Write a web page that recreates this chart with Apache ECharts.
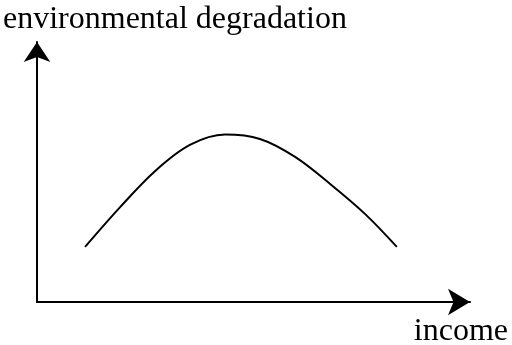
<!DOCTYPE html>
<html>
<head>
<meta charset="utf-8">
<script src="https://cdn.jsdelivr.net/npm/echarts@6/dist/echarts.min.js"></script>
<style>
  html, body { margin: 0; padding: 0; background: #fff; }
  #chart { width: 512px; height: 345px; }
</style>
</head>
<body>
<div id="chart"></div>
<script>
// income (arbitrary units) and degradation
const income = [1.11, 1.92, 2.73, 3.53, 4.34, 5.15, 5.96, 6.77, 7.58, 8.31];
const degradation = [2.12, 3.65, 5.04, 6.04, 6.44, 6.27, 5.58, 4.54, 3.38, 2.12];
const xName = 'income';
const yName = 'environmental degradation';

const curve = income.map((x, i) => [x, degradation[i]]);

let myChart = echarts.init(document.getElementById('chart'));
let option = {
  animation: false,
  backgroundColor: '#fff',
  title: [
    {
      text: yName,
      left: 3,
      top: 4,
      padding: 0,
      textStyle: { fontFamily: 'Liberation Serif', fontSize: 32, fontWeight: 'normal', color: '#000' }
    },
    {
      text: xName,
      right: 4,
      top: 316,
      padding: 0,
      textStyle: { fontFamily: 'Liberation Serif', fontSize: 32, fontWeight: 'normal', color: '#000' }
    }
  ],
  grid: {
    left: 37,
    right: 42,
    top: 42,
    bottom: 43,
    outerBoundsMode: 'none'
  },
  xAxis: {
    type: 'value',
    min: 0,
    max: 10,
    axisLine: {
      show: true,
      symbol: ['none', 'arrow'],
      symbolSize: [20, 22],
      lineStyle: { color: '#000', width: 2 }
    },
    axisTick: { show: false },
    axisLabel: { show: false },
    splitLine: { show: false }
  },
  yAxis: {
    type: 'value',
    min: 0,
    max: 10,
    axisLine: {
      show: true,
      symbol: ['none', 'arrow'],
      symbolSize: [20, 20],
      lineStyle: { color: '#000', width: 2 }
    },
    axisTick: { show: false },
    axisLabel: { show: false },
    splitLine: { show: false }
  },
  series: [
    {
      type: 'line',
      data: curve,
      smooth: 0.35,
      showSymbol: false,
      lineStyle: { color: '#000', width: 2 }
    }
  ]
};
myChart.setOption(option);
</script>
</body>
</html>
